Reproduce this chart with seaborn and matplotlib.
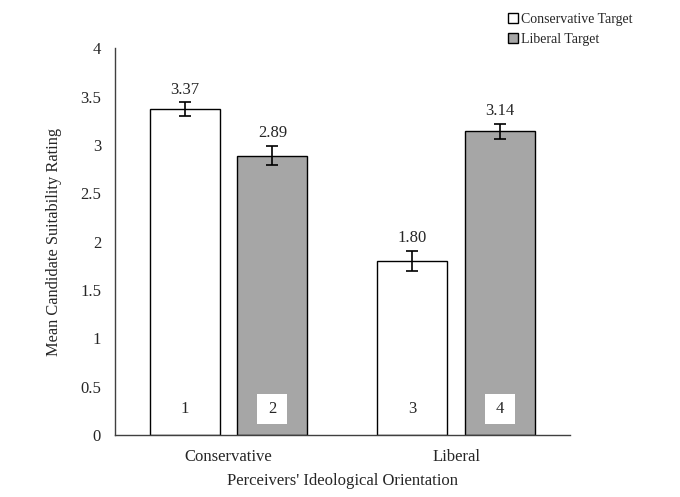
import pandas as pd
import matplotlib.pyplot as plt
import seaborn as sns
from matplotlib.patches import Patch, Rectangle

orientation = ['Conservative', 'Conservative', 'Liberal', 'Liberal']
target = ['Conservative Target', 'Liberal Target', 'Conservative Target', 'Liberal Target']
means = [3.37, 2.89, 1.80, 3.14]
errors = [0.07, 0.10, 0.10, 0.08]
bar_numbers = ['1', '2', '3', '4']

df = pd.DataFrame({'Orientation': orientation, 'Target': target, 'Mean': means})

sns.set_style('white')
plt.rcParams['font.family'] = ['Liberation Serif', 'DejaVu Serif']

fig = plt.figure(figsize=(6.8, 4.97), dpi=100)
ax = fig.add_axes([0.169, 0.125, 0.669, 0.778])

colors = {'Conservative Target': 'white', 'Liberal Target': '#a6a6a6'}
sns.barplot(data=df, x='Orientation', y='Mean', hue='Target', palette=colors,
            width=0.768, gap=0.2, edgecolor='black', linewidth=1,
            errorbar=None, legend=False, ax=ax)

# match each patch to its row of data
bars = sorted(ax.patches, key=lambda p: p.get_x())
for bar, m, e, n in zip(bars, means, errors, bar_numbers):
    cx = bar.get_x() + bar.get_width() / 2
    ax.errorbar(cx, m, yerr=e, color='black', capsize=4, elinewidth=1.2,
                capthick=1.2)
    ax.text(cx, m + e + 0.05, f'{m:.2f}', ha='center', va='bottom', fontsize=12)
    ax.add_patch(Rectangle((cx - 0.066, 0.115), 0.132, 0.31,
                           facecolor='white', edgecolor='none', zorder=3))
    ax.text(cx, 0.27, n, ha='center', va='center', fontsize=12, zorder=4)

ax.set_xlim(-0.5, 1.5)
ax.set_ylim(0, 4)
ax.set_yticks([0, 0.5, 1, 1.5, 2, 2.5, 3, 3.5, 4])
ax.set_yticklabels(['0', '0.5', '1', '1.5', '2', '2.5', '3', '3.5', '4'])
ax.tick_params(axis='y', length=0, labelsize=12, pad=10)
ax.tick_params(axis='x', length=0, labelsize=12, pad=10)
ax.set_xlabel("Perceivers' Ideological Orientation", fontsize=12, labelpad=6)
ax.set_ylabel('Mean Candidate Suitability Rating', fontsize=11.75, labelpad=13)

sns.despine(ax=ax)
for side in ['left', 'bottom']:
    ax.spines[side].set_color('#404040')
    ax.spines[side].set_linewidth(1)

handles = [Patch(facecolor='white', edgecolor='black', linewidth=1),
           Patch(facecolor='#a6a6a6', edgecolor='black', linewidth=1)]
fig.legend(handles, ['Conservative Target', 'Liberal Target'],
           loc='upper left', bbox_to_anchor=(0.729, 1.0), frameon=False,
           handlelength=0.7, handleheight=0.7, handletextpad=0.25,
           fontsize=10, labelspacing=0.55)

fig.savefig('out.png', dpi=100)
